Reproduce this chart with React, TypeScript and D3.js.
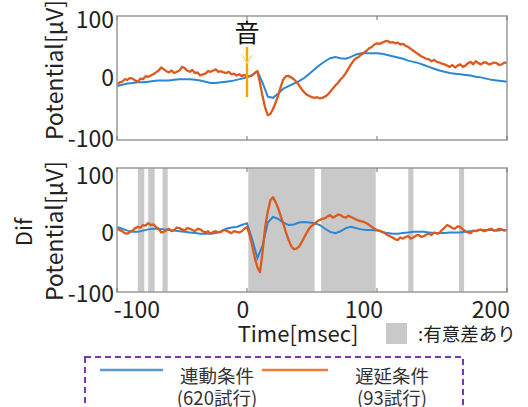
import React, { useEffect, useRef } from 'react';
import * as d3 from 'd3';

// blue series: one sample every 4 ms from -100 to 200 ms
const topBlue = [
  -13, -11, -9, -8, -7, -7, -6, -5, -4, -4, -4, -3, -2, -2, -2, -3, -4, -6, -8, -8,
  -7, -6, -5, -3, -1, 1, 5, 11, -8, -30, -32, -25, -17, -13, -9, -5, 0, 7, 14, 21,
  27, 32, 34, 32, 31, 34, 38, 40, 40, 40, 40, 39, 37, 35, 33, 31, 28, 26, 24, 21,
  18, 15, 12, 10, 8, 7, 6, 5, 4, 2, 1, -1, -3, -4, -5, -6,
];
const difBlue = [
  5, 2, -1, -3, -3, -1, 1, 2, 2, 1, 0, -1, -2, -3, -4, -5, -6, -6, -6, -5,
  -2, 2, 4, 5, 8, 11, -15, -45, -25, 12, 21, 18, 12, 8, 9, 12, 13, 12, 11, 8,
  2, -3, -5, -2, 3, 5, 3, 1, 0, 0, -1, -3, -5, -6, -6, -5, -4, -3, -3, -3,
  -4, -5, -5, -5, -4, -4, -4, -3, -2, -1, 0, 0, 0, -1, 0, 0,
];

// orange series: one sample every 2 ms from -100 to 200 ms
const topOrange = [
  -10, -7, -6, -2, -3, 0, -1, -4, -6, -1, -2, 3, 2, 4, 6, 9, 12, 17, 14, 11,
  9, 12, 8, 10, 12, 18, 16, 12, 10, 13, 8, 9, 4, 6, 7, 11, 10, 12, 14, 10,
  11, 9, 8, 10, 6, 7, 4, 6, 3, 5, 2, 3, 4, 8, 11, -8, -30, -48, -60, -58,
  -50, -40, -28, -14, -2, 3, 3, 1, -2, -6, -12, -18, -23, -27, -29, -31, -32, -31, -33, -32,
  -30, -27, -22, -17, -12, -8, -2, 2, 8, 15, 22, 28, 32, 34, 38, 41, 44, 48, 50, 54,
  56, 55, 57, 59, 60, 57, 58, 56, 57, 54, 55, 52, 50, 47, 44, 41, 38, 35, 33, 31,
  30, 27, 29, 26, 25, 23, 22, 20, 18, 21, 17, 20, 22, 18, 20, 24, 26, 22, 27, 24,
  22, 25, 25, 22, 23, 25, 24, 21, 22, 25, 24,
];
const difOrange = [
  3, 0, -2, -5, -6, -3, -1, 3, 5, 4, 8, 7, 11, 8, 9, 5, 2, -4, -3, 0,
  2, -2, 0, 4, 3, 1, -1, 3, 2, 0, -2, 2, 1, -2, -4, -2, -6, -3, -2, -4,
  -3, 0, -1, -3, -5, -2, -3, -4, -2, 2, 5, -8, -25, -45, -60, -68, -35, 5, 30, 48,
  53, 45, 35, 22, 10, -4, -16, -26, -31, -30, -27, -20, -12, -4, 3, 7, 10, 14, 16, 18,
  19, 22, 24, 20, 22, 25, 24, 21, 20, 23, 21, 19, 17, 15, 14, 13, 11, 8, 5, 2,
  0, -1, -3, -5, -8, -10, -12, -15, -16, -12, -14, -11, -10, -14, -12, -9, -8, -11, -10, -7,
  -6, -8, -4, -6, -5, 0, 4, 8, 6, 3, 2, 6, 5, 1, -2, -4, -5, -1, -2, 0,
  1, -2, -1, 1, 2, -1, 0, 2, 1, -1, 0,
];

// significant-difference intervals (ms)
const sigStart = [-84, -76, -65, 1, 57, 124, 163];
const sigEnd = [-79, -71, -61, 52, 99, 128, 167];

const xTicks = [-100, 0, 100, 200];
const xTickShift = [20, -4, -13, -16];
const yTicks = [-100, 0, 100];

const BLUE = '#2b86d4';
const ORANGE = '#dc5a1e';
const FONT = '"Noto Sans CJK JP", "Noto Sans", sans-serif';

export default function App() {
  const ref = useRef<SVGSVGElement>(null);

  useEffect(() => {
    const svg = d3.select(ref.current);
    svg.selectAll('*').remove();

    const x = d3.scaleLinear().domain([-100, 200]).range([117, 507]);
    const yTop = d3.scaleLinear().domain([-100, 100]).range([140, 16]);
    const yDif = d3.scaleLinear().domain([-100, 100]).range([292, 168]);

    const drawPanel = (
      y: d3.ScaleLinear<number, number>,
      blue: number[],
      orange: number[],
      bands: boolean,
      labelCenter: number,
      tickDy: number[],
    ) => {
      const g = svg.append('g');
      const [y0, y1] = y.range();
      g.append('rect')
        .attr('x', x(-100)).attr('y', y1)
        .attr('width', x(200) - x(-100)).attr('height', y0 - y1)
        .attr('fill', 'white');
      if (bands) {
        sigStart.forEach((s, i) => {
          g.append('rect')
            .attr('x', x(s)).attr('y', y1)
            .attr('width', x(sigEnd[i]) - x(s)).attr('height', y0 - y1)
            .attr('fill', '#c9c9c9');
        });
      }
      const line = (vals: number[]) => {
        const step = 300 / (vals.length - 1);
        return d3.line<number>()
          .x((_, i) => x(-100 + i * step))
          .y((d) => y(d))(vals);
      };
      g.append('path').attr('d', line(blue)).attr('fill', 'none')
        .attr('stroke', BLUE).attr('stroke-width', 2);
      g.append('path').attr('d', line(orange)).attr('fill', 'none')
        .attr('stroke', ORANGE).attr('stroke-width', 2.3).attr('stroke-linejoin', 'round');
      // box
      g.append('rect')
        .attr('x', x(-100)).attr('y', y1)
        .attr('width', x(200) - x(-100)).attr('height', y0 - y1)
        .attr('fill', 'none').attr('stroke', '#9a9a9a').attr('stroke-width', 1.5);
      // inward ticks
      xTicks.forEach((t) => {
        g.append('line').attr('x1', x(t)).attr('x2', x(t)).attr('y1', y1).attr('y2', y1 + 4)
          .attr('stroke', '#777').attr('stroke-width', 1);
        g.append('line').attr('x1', x(t)).attr('x2', x(t)).attr('y1', y0).attr('y2', y0 - 4)
          .attr('stroke', '#777').attr('stroke-width', 1);
      });
      // y tick labels
      yTicks.forEach((t, i) => {
        g.append('text')
          .attr('x', 114).attr('y', y(t) + tickDy[i])
          .attr('dy', '0.36em')
          .attr('text-anchor', 'end')
          .attr('font-size', 23)
          .attr('fill', '#222')
          .text(t);
      });
      // y axis label
      g.append('text')
        .attr('transform', `translate(63,${labelCenter}) rotate(-90)`)
        .attr('text-anchor', 'middle')
        .attr('font-size', 23)
        .attr('fill', '#222')
        .text('Potential[μV]');
    };

    drawPanel(yTop, topBlue, topOrange, false, 70, [-1, 0, 4]);
    drawPanel(yDif, difBlue, difOrange, true, 231, [2, 3, 8]);

    // stimulus marker
    svg.append('line').attr('x1', x(0)).attr('x2', x(0)).attr('y1', 47).attr('y2', 97)
      .attr('stroke', '#f2a900').attr('stroke-width', 2.5);
    svg.append('path').attr('d', `M${x(0) - 5},55 L${x(0)},63 L${x(0) + 5},55`)
      .attr('fill', 'none').attr('stroke', '#f7d36a').attr('stroke-width', 1.2);
    svg.append('text').attr('x', x(0)).attr('y', 42).attr('text-anchor', 'middle')
      .attr('font-size', 25).attr('fill', '#111').text('音');

    // Dif label
    svg.append('text')
      .attr('transform', 'translate(32,232) rotate(-90)')
      .attr('text-anchor', 'middle')
      .attr('font-size', 22)
      .attr('fill', '#222')
      .text('Dif');

    // x tick labels
    xTicks.forEach((t, i) => {
      svg.append('text')
        .attr('x', x(t) + xTickShift[i]).attr('y', 318)
        .attr('text-anchor', 'middle')
        .attr('font-size', 23)
        .attr('fill', '#222')
        .text(t);
    });
    svg.append('text').attr('x', 298).attr('y', 342).attr('text-anchor', 'middle')
      .attr('font-size', 22).attr('fill', '#222').text('Time[msec]');

    // significance legend
    svg.append('rect').attr('x', 386).attr('y', 323).attr('width', 21).attr('height', 21)
      .attr('fill', '#c9c9c9');
    svg.append('text').attr('x', 418).attr('y', 341)
      .attr('font-size', 18.5).attr('fill', '#222').text(':有意差あり');

    // condition legend
    svg.append('rect').attr('x', 85).attr('y', 357).attr('width', 378).attr('height', 70)
      .attr('fill', 'none').attr('stroke', '#7a35b8').attr('stroke-width', 2)
      .attr('stroke-dasharray', '6,4');
    const legend = [
      { color: '#5b9bd5', x1: 100, x2: 163, cx: 217, name: '連動条件', n: '(620試行)' },
      { color: '#ed7d31', x1: 262, x2: 328, cx: 392, name: '遅延条件', n: '(93試行)' },
    ];
    legend.forEach((l) => {
      svg.append('line').attr('x1', l.x1).attr('x2', l.x2).attr('y1', 370).attr('y2', 370)
        .attr('stroke', l.color).attr('stroke-width', 2.5);
      svg.append('text').attr('x', l.cx).attr('y', 383).attr('text-anchor', 'middle')
        .attr('font-size', 18.5).attr('fill', '#333').text(l.name);
      svg.append('text').attr('x', l.cx).attr('y', 405).attr('text-anchor', 'middle')
        .attr('font-size', 18.5).attr('fill', '#333').text(l.n);
    });
  }, []);

  return (
    <svg
      ref={ref}
      width={528}
      height={407}
      style={{ position: 'absolute', left: 0, top: 0, fontFamily: FONT, background: 'white' }}
    />
  );
}
